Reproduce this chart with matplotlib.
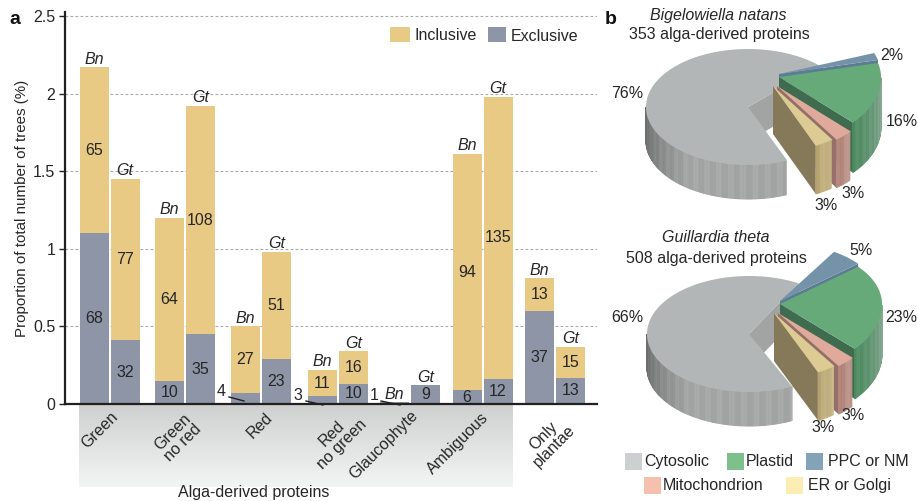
import numpy as np
import matplotlib
matplotlib.use("Agg")
import matplotlib.pyplot as plt
from matplotlib.patches import Polygon, Rectangle
from matplotlib.colors import to_rgb, LinearSegmentedColormap

plt.rcParams['font.family'] = ['Liberation Sans', 'DejaVu Sans']

# ---- data: panel a
categories = ["Green", "Green\nno red", "Red", "Red\nno green", "Glaucophyte", "Ambiguous", "Only\nplantae"]
bn_exclusive = [1.10, 0.15, 0.07, 0.05, 0.01, 0.09, 0.60]
bn_total = [2.17, 1.20, 0.50, 0.22, 0.01, 1.61, 0.81]
gt_exclusive = [0.41, 0.45, 0.29, 0.13, 0.12, 0.16, 0.17]
gt_total = [1.45, 1.92, 0.98, 0.34, 0.12, 1.98, 0.37]
bn_excl_n = [68, 10, 4, 3, 1, 6, 37]
bn_incl_n = [65, 64, 27, 11, None, 94, 13]
gt_excl_n = [32, 35, 23, 10, 9, 12, 13]
gt_incl_n = [77, 108, 51, 16, None, 135, 15]

# ---- data: panel b
slices = ["Cytosolic", "Plastid", "PPC or NM", "Mitochondrion", "ER or Golgi"]
bn_share = [76, 16, 2, 3, 3]
gt_share = [66, 23, 5, 3, 3]

# ---- layout / style
W, H = 918, 501
TXT = "#262626"
INC, EXC = "#e9ca84", "#8d95a7"
X0, X1, Y0, PX_PER_UNIT = 65, 597, 404, 155.2
centres = [109.5, 185, 261, 338, 410, 482.5, 555]
cat_xy = [(100, 430), (178, 437), (260, 425), (337, 439), (384, 445), (458, 443), (549, 441)]
FS = 11.5

fig = plt.figure(figsize=(W / 100, H / 100), dpi=100)

px = fig.add_axes([0, 0, 1, 1], zorder=0)
px.set_xlim(0, W); px.set_ylim(H, 0); px.axis("off")

cm = LinearSegmentedColormap.from_list("b", ["#cfd0d0", "#f3f4f4"])
px.imshow(np.linspace(0, 1, 100)[:, None], extent=(79, 513, 487, 405), aspect="auto", cmap=cm, zorder=1)
px.set_xlim(0, W); px.set_ylim(H, 0)

ax = fig.add_axes([X0 / W, 1 - Y0 / H, (X1 - X0) / W, (Y0 - 12) / H], zorder=2)
ax.patch.set_alpha(0)
ax.set_xlim(X0, X1)
ax.set_ylim(0, (Y0 - 12) / PX_PER_UNIT)
for s in ("top", "right"):
    ax.spines[s].set_visible(False)
for s in ("left", "bottom"):
    ax.spines[s].set_linewidth(1.6)
    ax.spines[s].set_color("#231f20")
ax.set_yticks([0, 0.5, 1, 1.5, 2, 2.5])
ax.set_yticklabels(["0", "0.5", "1", "1.5", "2", "2.5"], fontsize=FS, color=TXT)
ax.tick_params(axis="y", length=4, width=1, color="#231f20", pad=3)
ax.set_xticks([])
ax.grid(axis="y", linestyle=(0, (2.5, 2)), color="#a8a8a8", linewidth=0.8)
ax.set_axisbelow(True)
ax.set_ylabel("Proportion of total number of trees (%)", fontsize=10.9, color=TXT, labelpad=3)

OFF = 15.5
BW = 29
for i, c in enumerate(centres):
    for sign, excl, tot, ne, ni, tag in ((-1, bn_exclusive, bn_total, bn_excl_n, bn_incl_n, "Bn"),
                                         (1, gt_exclusive, gt_total, gt_excl_n, gt_incl_n, "Gt")):
        x = c + sign * OFF
        ax.bar(x, excl[i], BW, color=EXC, zorder=2)
        ax.bar(x, tot[i] - excl[i], BW, bottom=excl[i], color=INC, zorder=2)
        if excl[i] > 0.08:
            ax.text(x, excl[i] / 2, str(ne[i]), ha="center", va="center", fontsize=FS, color=TXT, zorder=3)
        if ni[i] is not None:
            ax.text(x, (excl[i] + tot[i]) / 2, str(ni[i]), ha="center", va="center", fontsize=FS, color=TXT, zorder=3)
        ax.annotate(tag, (x, tot[i]), xytext=(0, 0.5), textcoords="offset points", ha="center", va="bottom",
                    fontsize=FS, style="italic", color=TXT, zorder=3)

for i, tx, ty, lx in ((2, 221, 392, (229, 244)), (3, 298, 396, (306, 323)), (4, 374, 396, (381, 400))):
    px.text(tx, ty, str(bn_excl_n[i]), ha="center", va="center", fontsize=FS, color=TXT, zorder=6)
    fig.add_artist(plt.Line2D([lx[0] / W, lx[1] / W], [1 - (ty + 5) / H, 1 - (ty + 9) / H], color="#231f20", lw=1, zorder=6))

for lab, (tx, ty) in zip(categories, cat_xy):
    px.text(tx, ty, lab, rotation=45, ha="center", va="center", multialignment="center",
            fontsize=FS, color=TXT, linespacing=1.0, zorder=3)
px.text(254, 493, "Alga-derived proteins", ha="center", va="center", fontsize=FS, color=TXT)

px.add_patch(Rectangle((390, 27), 20, 15, color=INC, lw=0, zorder=3))
px.text(415, 35, "Inclusive", va="center", fontsize=FS, color=TXT, zorder=3)
px.add_patch(Rectangle((488, 27), 18, 15, color=EXC, lw=0, zorder=3))
px.text(511, 36, "Exclusive", va="center", fontsize=FS, color=TXT, zorder=3)

px.text(9, 19, "a", fontsize=14, fontweight="bold", color="#111", va="center")
px.text(605, 19, "b", fontsize=14, fontweight="bold", color="#111", va="center")

# ---- pies
A, B_BACK, B_FRONT = 102, 58, 66
STYLE = {  # top, cut face, wall (first end), wall (last end)
    "Cytosolic": ("#b3b6b6", "#a2a4a4", "#666767", "#a5a7a7"),
    "Plastid": ("#66aa7a", "#3f6b4e", "#4f8c62", "#8aaa96"),
    "PPC or NM": ("#7492a8", "#5b7c94", "#5b7c94", "#5b7c94"),
    "Mitochondrion": ("#dfa99c", "#966f68", "#b0837a", "#c09a90"),
    "ER or Golgi": ("#dccb92", "#85795a", "#b8a674", "#c9b98a"),
}
EXPLODE = {"Plastid": (31, -30), "PPC or NM": (31, -33), "Mitochondrion": (29, -21), "ER or Golgi": (25, -21)}
WALL_H = {"Cytosolic": 34, "Plastid": 50, "PPC or NM": 8, "Mitochondrion": 48, "ER or Golgi": 48}


def pt(cx, cy, deg, front=B_FRONT):
    t = np.radians(deg)
    s = np.sin(t)
    return np.column_stack([cx + A * np.cos(t), cy - np.where(s < 0, front, B_BACK) * s])


def quad_wall(vx, vy, seg, h, c0, c1, span, front):
    for k in range(len(seg) - 1):
        f = min(1, k / span)
        shade = 0.02 * np.sin(seg[k] * 0.9) + 0.012 * np.sin(seg[k] * 2.7)
        col = np.clip(c0 + (c1 - c0) * f + shade, 0, 1)
        p = pt(vx, vy, seg[k:k + 2], front)
        px.add_patch(Polygon([p[0], p[1], (p[1][0], p[1][1] + h), (p[0][0], p[0][1] + h)],
                             facecolor=col, edgecolor=col, lw=0.7, zorder=3))


def wedge(cx, cy, name, a0, a1):
    top, face, w0, w1 = STYLE[name]
    dx, dy = EXPLODE[name]
    vx, vy = cx + dx, cy + dy
    h = WALL_H[name]
    e = pt(vx, vy, np.array([a0]))[0]
    px.add_patch(Polygon([(vx, vy), e, (e[0], e[1] + h), (vx, vy + h)], color=face, lw=0, zorder=3))
    seg = np.arange(a0, min(a1, 0) + 1e-6, 1.0)
    quad_wall(vx, vy, seg, h, np.array(to_rgb(w0)), np.array(to_rgb(w1)), max(len(seg) - 1, 1), B_FRONT)
    arc = pt(vx, vy, np.linspace(a0, a1, 120))
    px.add_patch(Polygon(np.vstack([[vx, vy], arc]), color=top, lw=0, zorder=3))


def pie(cx, cy, shares, gray_from, gray_scale, green_top):
    cyt, pla, ppc, mit, er = shares
    a_end = gray_from + cyt * 3.6 * gray_scale
    top, face, w0, w1 = STYLE["Cytosolic"]
    h = WALL_H["Cytosolic"]
    e = pt(cx, cy, np.array([gray_from]), B_BACK)[0]
    px.add_patch(Polygon([(cx, cy), e, (e[0], e[1] + h), (cx, cy + h)], color=face, lw=0, zorder=3))
    quad_wall(cx, cy, np.arange(180, a_end + 1e-6, 1.0), h, np.array(to_rgb(w0)), np.array(to_rgb(w1)), 55, B_BACK)
    px.add_patch(Polygon(np.vstack([[cx, cy], pt(cx, cy, np.linspace(gray_from, a_end, 240), B_BACK)]),
                         color=top, lw=0, zorder=3))
    g0 = green_top - pla * 3.6
    wedge(cx, cy, "PPC or NM", green_top, green_top + ppc * 3.6)
    wedge(cx, cy, "Plastid", g0, green_top)
    m0 = g0 - mit * 3.6
    wedge(cx, cy, "Mitochondrion", m0, g0)
    wedge(cx, cy, "ER or Golgi", m0 - er * 3.6, m0)


pie(748, 107, bn_share, 45, 0.905, 14)
pie(749, 334, gt_share, 61, 0.985, 40)

px.text(718, 15, "Bigelowiella natans", ha="center", va="center", style="italic", fontsize=FS, color=TXT)
px.text(719, 34, "353 alga-derived proteins", ha="center", va="center", fontsize=FS, color=TXT)
px.text(716, 238, "Guillardia theta", ha="center", va="center", style="italic", fontsize=FS, color=TXT)
px.text(716, 258, "508 alga-derived proteins", ha="center", va="center", fontsize=FS, color=TXT)

for shares, pos in ((bn_share, [(627, 93), (902, 121), (892, 55), (853, 193), (826, 206)]),
                    (gt_share, [(627, 318), (901, 318), (861, 250), (853, 415), (823, 427)])):
    for v, (tx, ty) in zip(shares, pos):
        px.text(tx, ty, f"{v}%", ha="center", va="center", fontsize=FS, color=TXT, zorder=5)

leg_cols = ["#cdcfd0", "#7ec08c", "#85a3b8", "#f6bfae", "#fcedb4"]
leg_pos = [(625, 453), (727, 453), (806, 453), (644, 477), (786, 477)]
leg_txt = [644, 746, 828, 663, 808]
for name, col, (sx, sy), tx in zip(slices, leg_cols, leg_pos, leg_txt):
    px.add_patch(Rectangle((sx, sy), 17, 17, color=col, lw=0, zorder=3))
    px.text(tx, sy + 8.5, name, va="center", fontsize=FS, color=TXT, zorder=3)

fig.savefig("out.png", dpi=100)
